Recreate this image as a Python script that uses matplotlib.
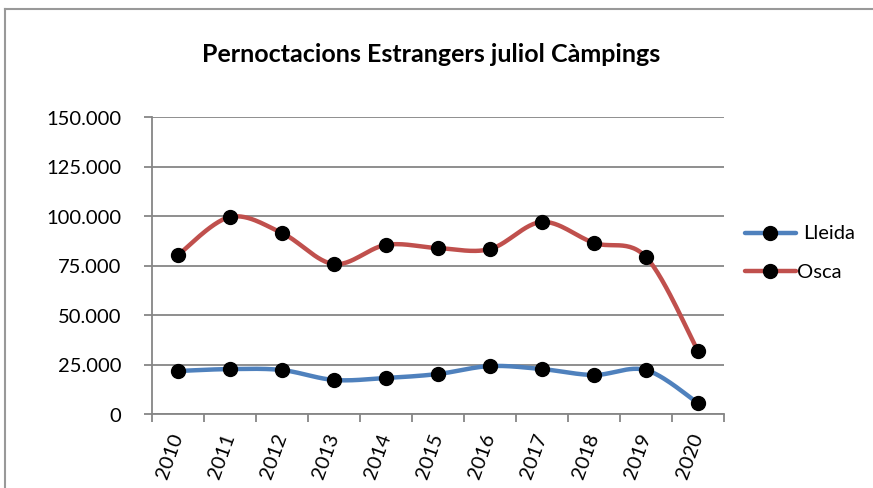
import numpy as np
import matplotlib.pyplot as plt
from matplotlib.lines import Line2D

plt.rcParams['font.family'] = ['Lato', 'DejaVu Sans']

# Data
years = ['2010', '2011', '2012', '2013', '2014', '2015', '2016', '2017', '2018', '2019', '2020']
lleida = [21700, 22700, 22200, 17200, 18200, 20200, 24200, 22700, 19700, 22200, 5500]
osca = [80300, 99500, 91400, 75700, 85400, 83800, 83300, 97000, 86400, 79300, 31800]


def smooth(x, y, n=30):
    # Bezier smoothing in the way spreadsheet "smoothed line" charts do it
    x = np.asarray(x, float)
    y = np.asarray(y, float)
    px = np.concatenate([[x[0]], x, [x[-1]]])
    py = np.concatenate([[y[0]], y, [y[-1]]])
    t = np.linspace(0, 1, n)
    xs, ys = [], []
    for i in range(1, len(px) - 2):
        p0 = np.array([px[i], py[i]])
        p3 = np.array([px[i + 1], py[i + 1]])
        p1 = p0 + (np.array([px[i + 1], py[i + 1]]) - np.array([px[i - 1], py[i - 1]])) / 6
        p2 = p3 - (np.array([px[i + 2], py[i + 2]]) - np.array([px[i], py[i]])) / 6
        b = ((1 - t) ** 3)[:, None] * p0 + (3 * (1 - t) ** 2 * t)[:, None] * p1 \
            + (3 * (1 - t) * t ** 2)[:, None] * p2 + (t ** 3)[:, None] * p3
        xs.extend(b[:, 0])
        ys.extend(b[:, 1])
    return xs, ys


W, H = 873, 489
fig = plt.figure(figsize=(W / 100, H / 100), dpi=100)
ax = fig.add_axes([152 / W, 1 - 415 / H, 572 / W, 297 / H])

# chart border
border = '#999999'
fig.add_artist(Line2D([5 / W, 5 / W], [0, 1 - 10 / H], color=border, lw=1.5, transform=fig.transFigure))
fig.add_artist(Line2D([5 / W, 1], [1 - 10 / H, 1 - 10 / H], color=border, lw=1.5, transform=fig.transFigure))

x = np.arange(len(years)) + 0.5
colors = {'Lleida': '#4f81bd', 'Osca': '#c0504d'}
for name, vals in [('Lleida', lleida), ('Osca', osca)]:
    sx, sy = smooth(x, vals)
    ax.plot(sx, sy, color=colors[name], lw=3.2, solid_capstyle='round', zorder=2)
    ax.plot(x, vals, 'o', color='black', ms=10, zorder=3)

ax.set_xlim(0, len(years))
ax.set_ylim(0, 150000)
ax.set_yticks(np.arange(0, 150001, 25000))
ax.set_yticklabels(['0' if v == 0 else f'{v:,}'.replace(',', '.') for v in range(0, 150001, 25000)],
                   fontsize=14.5)
ax.yaxis.grid(True, color='#868686', lw=1.3)
ax.set_axisbelow(True)

ax.set_xticks(np.arange(len(years) + 1))
ax.set_xticklabels([])
ax.set_xticks(x, minor=True)
ax.set_xticklabels(years, minor=True, rotation=70, ha='right', va='center',
                   rotation_mode='anchor', fontsize=14.5)
ax.tick_params(axis='x', which='minor', length=0, pad=14)
ax.tick_params(axis='both', which='major', direction='out', length=6, color='#868686', width=1.3)
ax.tick_params(axis='y', pad=16)

for s in ['top', 'right']:
    ax.spines[s].set_visible(False)
for s in ['left', 'bottom']:
    ax.spines[s].set_color('#868686')
    ax.spines[s].set_linewidth(1.3)

fig.text(0.494, 1 - 55 / H, 'Pernoctacions Estrangers juliol Càmpings', ha='center', va='center',
         fontsize=18, fontweight='bold')

# legend drawn by hand (labels are not aligned the same way in the original)
for name, ly, tx in [('Lleida', 234, 803), ('Osca', 272, 797)]:
    fig.add_artist(Line2D([745 / W, 796 / W], [1 - ly / H] * 2, color=colors[name], lw=3.2,
                          solid_capstyle='round', transform=fig.transFigure))
    fig.add_artist(Line2D([770 / W], [1 - ly / H], marker='o', color='black', ms=10,
                          transform=fig.transFigure))
    fig.text(tx / W, 1 - ly / H, name, ha='left', va='center', fontsize=14.5)

fig.savefig('out.png', dpi=100)
